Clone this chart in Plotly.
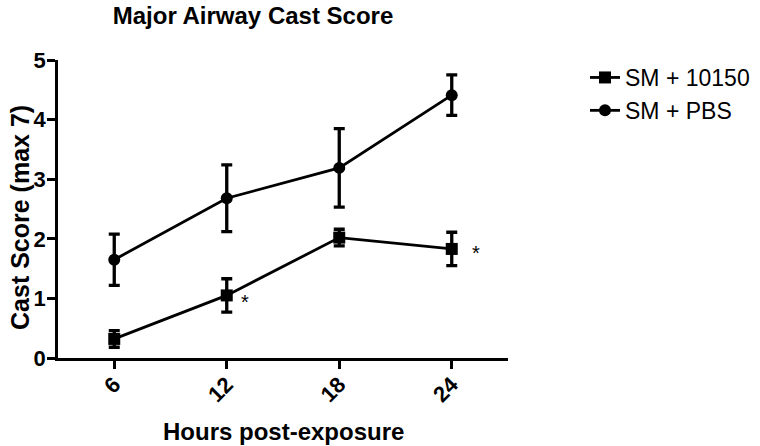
import plotly.graph_objects as go

hours = [6, 12, 18, 24]
tick_labels = ["6", "12", "18", "24"]

sm_10150 = [0.32, 1.05, 2.02, 1.83]
sm_10150_err = [0.14, 0.28, 0.14, 0.28]

sm_pbs = [1.65, 2.68, 3.19, 4.41]
sm_pbs_err = [0.43, 0.56, 0.66, 0.34]

star_hours = [12, 24]
star_values = [1.0, 1.83]

FONT = "Arial, Liberation Sans, sans-serif"
W, H = 760, 446
L, R, T, B = 58, 252, 60, 88
PW, PH = W - L - R, H - T - B

fig = go.Figure()
fig.add_trace(go.Scatter(
    x=hours, y=sm_10150, name="SM + 10150", mode="lines+markers",
    line=dict(color="black", width=2.8),
    marker=dict(symbol="square", size=12, color="black"),
    error_y=dict(type="data", array=sm_10150_err, color="black", thickness=3.3, width=5.5),
))
fig.add_trace(go.Scatter(
    x=hours, y=sm_pbs, name="SM + PBS", mode="lines+markers",
    line=dict(color="black", width=2.8),
    marker=dict(symbol="circle", size=12, color="black"),
    error_y=dict(type="data", array=sm_pbs_err, color="black", thickness=3.3, width=5.5),
))

for h, v, dx in zip(star_hours, star_values, [18, 24]):
    fig.add_annotation(x=h, y=v, text="*", showarrow=False, xshift=dx, yshift=-4,
                       font=dict(family=FONT, size=20, color="black"))

# axis titles
fig.add_annotation(xref="paper", yref="paper", x=0.5, y=(H - B - 431) / PH,
                   xanchor="center", yanchor="middle", showarrow=False,
                   text="<b>Hours post-exposure</b>",
                   font=dict(family=FONT, size=24, color="black"))
fig.add_annotation(xref="paper", yref="paper", x=(20 - L) / PW, y=0.47,
                   xanchor="center", yanchor="middle", showarrow=False, textangle=-90,
                   text="<b>Cast Score (max 7)</b>",
                   font=dict(family=FONT, size=25, color="black"))

fig.update_layout(
    width=W, height=H,
    paper_bgcolor="white", plot_bgcolor="white",
    margin=dict(l=L, r=R, t=T, b=B, autoexpand=False),
    title=dict(text="<b>Major Airway Cast Score</b>", x=253 / W, xanchor="center",
               y=1 - 16 / H, yanchor="middle",
               font=dict(family=FONT, size=24, color="black")),
    legend=dict(x=(585 - L) / PW, y=(H - B - 56) / PH, xanchor="left", yanchor="top",
                font=dict(family=FONT, size=23, color="black"),
                tracegroupgap=0, itemwidth=30),
    showlegend=True,
)
fig.update_xaxes(
    range=[3, 27], tickvals=hours, ticktext=["<b>%s</b>" % t for t in tick_labels],
    tickangle=-45, ticks="outside", ticklen=8, tickwidth=2.8, tickcolor="black",
    showline=True, linecolor="black", linewidth=2.8, showgrid=False, zeroline=False,
    automargin=False, ticklabelstandoff=-6,
    tickfont=dict(family=FONT, size=22, color="black"),
)
fig.update_yaxes(
    range=[0, 5], tickvals=[0, 1, 2, 3, 4, 5], ticktext=["<b>%d</b>" % v for v in range(6)],
    ticks="outside", ticklen=8, tickwidth=2.8, tickcolor="black",
    showline=True, linecolor="black", linewidth=2.8, showgrid=False, zeroline=False,
    automargin=False, ticklabelstandoff=-3,
    tickfont=dict(family=FONT, size=22, color="black"),
)

# remove the browser's default 8px body margin so the figure fills the window
fig.write_html("out.html", config={"displayModeBar": False},
               post_script="document.body.style.margin='0';")
